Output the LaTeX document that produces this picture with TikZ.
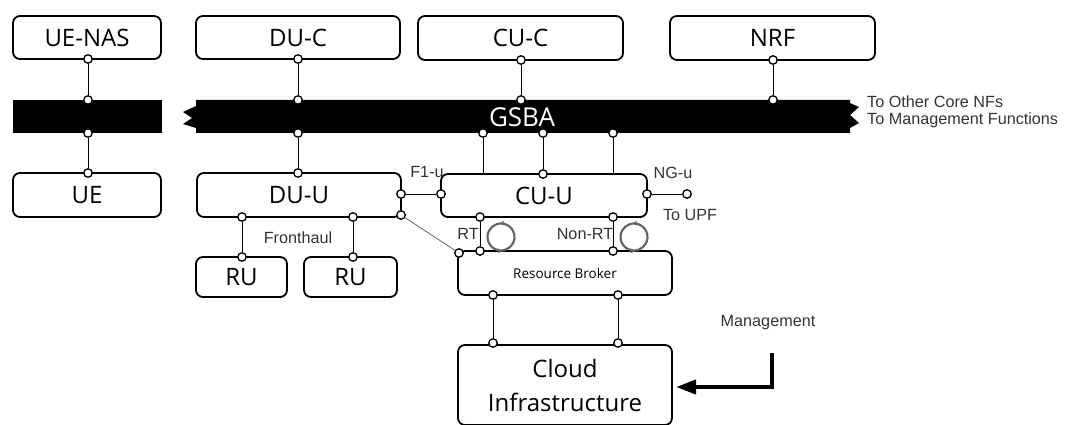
\documentclass[tikz,border=0pt]{standalone}
\usepackage{fontspec}
\setmainfont{Liberation Sans}
\newfontfamily\boxfont{Open Sans}
\usetikzlibrary{positioning, arrows.meta}

\begin{document}
\begin{tikzpicture}[x=1pt, y=-1pt,
    box/.style={draw, line width=1.8pt, rounded corners=7pt, inner sep=0pt, fill=white,
        font=\boxfont\fontsize{24}{34}\selectfont},
    port/.style={circle, draw, fill=white, line width=1.3pt, minimum size=8.5pt, inner sep=0pt},
    link/.style={line width=1pt},
    lbl/.style={font=\fontsize{16.2}{18}\selectfont, text=black!80, inner sep=0pt},
    cyc/.style={draw=black!60, line width=2.2pt, -{Stealth[length=4.5pt,width=5pt]}}]
    \useasboundingbox (0,0) rectangle (1065,425);

    % service bus
    \fill (13,100) rectangle (162,133);
    \fill (196,100) -- (850,100) -- (850,103) -- (859,107) -- (850,115) -- (859,123)
        -- (850,128) -- (850,133) -- (196,133) -- (196,128) -- (183,124) -- (192,118)
        -- (183,112) -- (196,106) -- cycle;
    \node[font=\boxfont\fontsize{26}{30}\selectfont, text=white] (gsba) at (522,117) {GSBA};

    % boxes
    \node[box, minimum width=148pt, minimum height=43pt] (uenas) at (87,37.5) {UE-NAS};
    \node[box, minimum width=204pt, minimum height=43pt] (duc) at (298,37.5) {DU-C};
    \node[box, minimum width=205pt, minimum height=44pt] (cuc) at (520.5,38) {CU-C};
    \node[box, minimum width=205pt, minimum height=44pt] (nrf) at (772.5,38) {NRF};
    \node[box, minimum width=148pt, minimum height=44pt] (ue) at (87,195) {UE};
    \node[box, minimum width=204pt, minimum height=44pt] (duu) at (299,195) {DU-U};
    \node[box, minimum width=206pt, minimum height=43pt] (cuu) at (544,195.5) {CU-U};
    \node[box, minimum width=91pt, minimum height=40pt] (ru1) at (241.5,277) {RU};
    \node[box, minimum width=93pt, minimum height=40pt] (ru2) at (350.5,277) {RU};
    \node[box, minimum width=214pt, minimum height=44pt,
        font=\boxfont\fontsize{13.5}{16}\selectfont] (rb) at (565,273) {Resource Broker};
    \node[box, minimum width=214pt, minimum height=80pt, align=center] (cloud) at (565,385)
        {Cloud\\Infrastructure};

    % ports
    \node[port] (uenasP) at (88,59) {};
    \node[port] (busA1) at (88,100) {};
    \node[port] (busA2) at (88,133) {};
    \node[port] (ueP) at (88,173) {};
    \node[port] (ducP) at (298,59) {};
    \node[port] (busB1) at (298,100) {};
    \node[port] (busB2) at (298,133) {};
    \node[port] (duuT) at (298,173) {};
    \node[port] (cucP) at (521,60) {};
    \node[port] (busC1) at (521,100) {};
    \node[port] (nrfP) at (773,60) {};
    \node[port] (busD1) at (773,100) {};
    \node[port] (busE1) at (483,133) {};
    \node[port] (busE2) at (543,133) {};
    \node[port] (busE3) at (613,133) {};
    \node[port] (cuuT) at (543,174) {};
    \coordinate (cuuT1) at (483,174);
    \coordinate (cuuT3) at (613,174);
    \node[port] (duuB1) at (242,217) {};
    \node[port] (duuB2) at (353,217) {};
    \node[port] (ru1P) at (242,257) {};
    \node[port] (ru2P) at (353,257) {};
    \node[port] (duuR) at (401,194) {};
    \node[port] (duuC) at (401,215) {};
    \node[port] (cuuL) at (441,194) {};
    \node[port] (cuuR) at (647,194) {};
    \node[port] (upf) at (687,194) {};
    \node[port] (cuuB1) at (480,217) {};
    \node[port] (cuuB2) at (613,217) {};
    \node[port] (rbT1) at (480,251) {};
    \node[port] (rbT2) at (613,251) {};
    \node[port] (rbC) at (459,253) {};
    \node[port] (rbB1) at (493,295) {};
    \node[port] (rbB2) at (618,295) {};
    \node[port] (clT1) at (493,343) {};
    \node[port] (clT2) at (618,343) {};

    % links
    \draw[link] (uenasP) -- (busA1);
    \draw[link] (busA2) -- (ueP);
    \draw[link] (ducP) -- (busB1);
    \draw[link] (busB2) -- (duuT);
    \draw[link] (cucP) -- (busC1);
    \draw[link] (nrfP) -- (busD1);
    \draw[link] (busE1) -- (cuuT1);
    \draw[link] (busE2) -- (cuuT);
    \draw[link] (busE3) -- (cuuT3);
    \draw[link] (duuB1) -- (ru1P);
    \draw[link] (duuB2) -- (ru2P);
    \draw[link] (duuR) -- (cuuL);
    \draw[link] (cuuR) -- (upf);
    \draw[link] (cuuB1) -- (rbT1);
    \draw[link] (cuuB2) -- (rbT2);
    \draw[link] (rbB1) -- (clT1);
    \draw[link] (rbB2) -- (clT2);
    \draw[link, black!60, line width=0.8pt] (duuC) -- (rbC);

    % loops
    \coordinate (rtloop) at (501,237);
    \coordinate (nrtloop) at (634,237);
    \draw[cyc] ([shift={(95:13.5)}]rtloop) arc[start angle=95, end angle=-95, radius=13.5];
    \draw[cyc] ([shift={(-85:13.5)}]rtloop) arc[start angle=-85, end angle=-275, radius=13.5];
    \draw[cyc] ([shift={(95:13.5)}]nrtloop) arc[start angle=95, end angle=-95, radius=13.5];
    \draw[cyc] ([shift={(-85:13.5)}]nrtloop) arc[start angle=-85, end angle=-275, radius=13.5];

    % management
    \coordinate (mgmtIn) at (772,353);
    \coordinate (mgmtTip) at (676,387);
    \draw[line width=4pt, -{Triangle[length=20pt,width=14pt]}] (mgmtIn) |- (mgmtTip);

    % labels
    \node[lbl, anchor=west] (toNF) at (867,102) {To Other Core NFs};
    \node[lbl, anchor=west] (toMF) at (867,120) {To Management Functions};
    \node[lbl] (f1u) at (427,172) {F1-u};
    \node[lbl] (ngu) at (673,173) {NG-u};
    \node[lbl] (toupf) at (690,215) {To UPF};
    \node[lbl] (fronthaul) at (298,238) {Fronthaul};
    \node[lbl] (rt) at (468,234) {RT};
    \node[lbl] (nonrt) at (585,234) {Non-RT};
    \node[lbl] (mgmt) at (768,323) {Management};
\end{tikzpicture}
\end{document}
